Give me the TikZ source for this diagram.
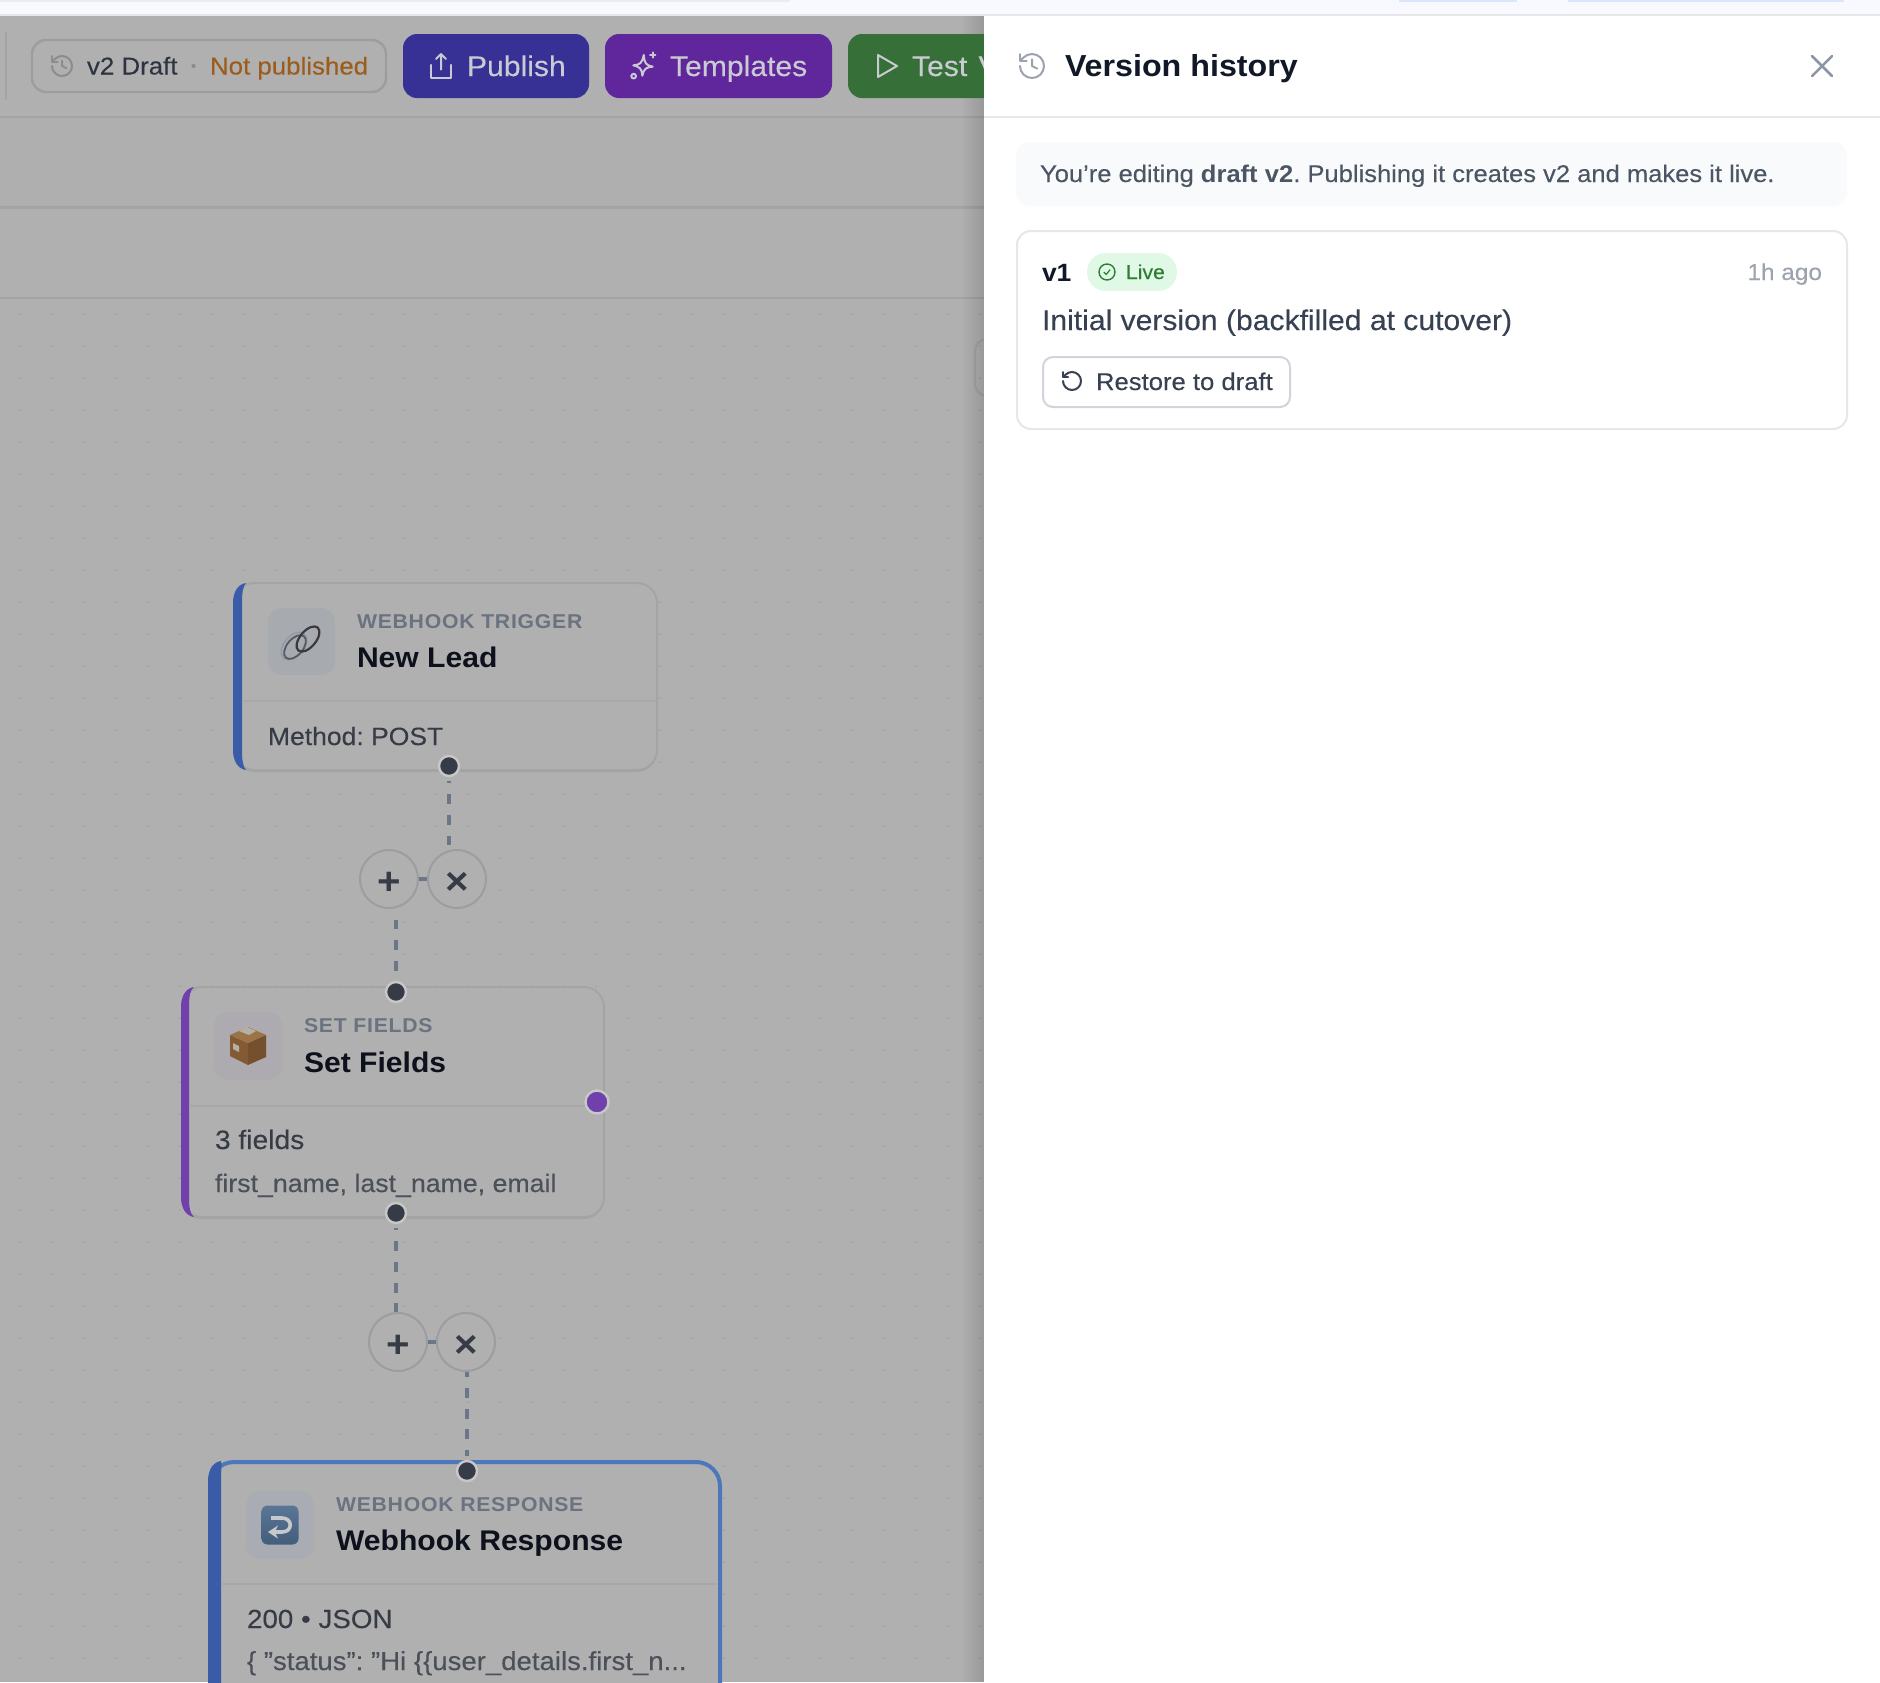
\documentclass[tikz,border=0pt]{standalone}
\usepackage{fontspec}
\setmainfont[FakeStretch=1.06, UprightFeatures={FakeBold=.18}]{Liberation Sans}
\newfontfamily\kickerfont[FakeStretch=1.06,LetterSpace=3.8]{Liberation Sans}
\usetikzlibrary{arrows.meta,shadows}
\frenchspacing
\definecolor{dimbg}{HTML}{B0B0B0}
\definecolor{dimband}{HTML}{AEAFAE}
\definecolor{dimline}{HTML}{A4A4A4}
\definecolor{griddot}{HTML}{A0A0A0}
\definecolor{btnedge}{HTML}{9D9DA1}
\definecolor{publishbg}{HTML}{373195}
\definecolor{templatebg}{HTML}{5F279B}
\definecolor{testbg}{HTML}{367038}
\definecolor{btntext}{HTML}{CACAD2}
\definecolor{ink}{HTML}{111827}
\definecolor{inkdim}{HTML}{0D111C}
\definecolor{slate}{HTML}{363B46}
\definecolor{slatelight}{HTML}{4B5059}
\definecolor{kicker}{HTML}{6B7280}
\definecolor{wirecol}{HTML}{6B7786}
\definecolor{portcol}{HTML}{363C47}
\definecolor{portpurple}{HTML}{7040AC}
\definecolor{bluebar}{HTML}{3A5CA8}
\definecolor{blueedge}{HTML}{4C78BB}
\definecolor{rulecol}{HTML}{E5E7EB}
\definecolor{softgrey}{HTML}{9CA3AF}
\definecolor{bodycol}{HTML}{4B5563}
\definecolor{textcol}{HTML}{374151}
\definecolor{livebg}{HTML}{E0F9E6}
\definecolor{livefg}{HTML}{2E7D32}
\definecolor{stripbg}{HTML}{F8F8FF}
\definecolor{stripedge}{HTML}{E8ECF4}
\definecolor{strippill}{HTML}{DBE6FB}
\definecolor{clockdim}{HTML}{8A8C90}
\definecolor{draftink}{HTML}{2D3340}
\definecolor{sepdot}{HTML}{8A8A8A}
\definecolor{notpub}{HTML}{9C5C1C}
\definecolor{leadbox}{HTML}{A7ABB0}
\definecolor{linkpale}{HTML}{8E98A6}
\definecolor{linkmid}{HTML}{555A64}
\definecolor{linkdark}{HTML}{3C383C}
\definecolor{setbox}{HTML}{ADAAB0}
\definecolor{cratel}{HTML}{835A33}
\definecolor{crater}{HTML}{74502E}
\definecolor{cratet}{HTML}{9C7346}
\definecolor{tape}{HTML}{B5AFA4}
\definecolor{replybox}{HTML}{A9ADB3}
\definecolor{replyhi}{HTML}{5A7696}
\definecolor{replylo}{HTML}{435E7C}
\definecolor{replyarrow}{HTML}{C6C8CC}
\definecolor{closecol}{HTML}{8B95A5}
\definecolor{notebg}{HTML}{F9FAFB}
\definecolor{restoreedge}{HTML}{D1D5DB}

\tikzset{
	txt/.style={anchor=base west, inner sep=0pt, outer sep=0pt},
	kickertxt/.style={txt, text=kicker, font=\kickerfont\bfseries\fontsize{10}{12}\selectfont},
	titletxt/.style={txt, text=inkdim, font=\bfseries\fontsize{14.2}{17}\selectfont},
	cardtxt/.style={txt, text=slate, font=\fontsize{12.5}{15}\selectfont},
	cardsub/.style={txt, text=slatelight, font=\fontsize{12.6}{15}\selectfont},
	toolbtn/.style={txt, text=btntext, font=\fontsize{14.2}{17}\selectfont},
	paneltxt/.style={txt, text=textcol, font=\fontsize{12.1}{15}\selectfont},
	card/.style={draw=dimline, line width=1pt, fill=dimbg, rounded corners=10pt, inner sep=0pt, anchor=north west,
		drop shadow={shadow xshift=0pt, shadow yshift=-1pt, fill=black, opacity=.07}},
	iconbox/.style={rounded corners=7pt},
	divider/.style={draw=dimline!70!dimbg, line width=1pt},
	port/.style={circle, fill=portcol, draw=dimbg!70!white, line width=1.2pt, minimum size=10pt, inner sep=0pt},
	wire/.style={draw=wirecol, line width=2pt, dash pattern=on 5pt off 5.4pt, dash phase=4pt},
	roundbtn/.style={circle, draw=btnedge, line width=1pt, fill=dimbg, minimum size=29pt, inner sep=0pt,
		text=slate, font=\bfseries\fontsize{19}{19}\selectfont},
	iconline/.style={line width=1pt, line cap=round, line join=round},
}

% glyph of a round button, sits a little under the middle
\newcommand{\btnglyph}[1]{\raisebox{-7.8pt}[0pt][0pt]{#1}}
% small line icons, local y points up
\newcommand{\historyicon}[4]{
	\begin{scope}[shift={(#1,#2)}, x=.5pt, y=.5pt, scale=#3]
		\draw[iconline, #4] (-1,0) arc[start angle=180, end angle=495, radius=1] -- (-1,.44);
		\draw[iconline, #4] (-1,1) -- (-1,.44) -- (-.44,.44);
		\draw[iconline, #4] (0,.55) -- (0,0) -- (.44,-.22);
	\end{scope}
}
\newcommand{\restoreicon}[4]{
	\begin{scope}[shift={(#1,#2)}, x=.5pt, y=.5pt, scale=#3]
		\draw[iconline, #4] (-1,0) arc[start angle=180, end angle=495, radius=1] -- (-1,.44);
		\draw[iconline, #4] (-1,1) -- (-1,.44) -- (-.44,.44);
	\end{scope}
}
% crescent accent on the left of a card: left, top, bottom, width, colour
\newcommand{\accentbar}[5]{
	\fill[#5] ({#1+13},{#2+1}) .. controls ({#1+5},{#2+2}) and (#1,{#2+10}) .. (#1,{#2+21})
		-- (#1,{#3-21}) .. controls (#1,{#3-10}) and ({#1+5},{#3-2}) .. ({#1+13},{#3-1})
		.. controls ({#1+#4+1},{#3-4}) and ({#1+#4},{#3-11}) .. ({#1+#4},{#3-21})
		-- ({#1+#4},{#2+21}) .. controls ({#1+#4},{#2+11}) and ({#1+#4+1},{#2+4}) .. ({#1+13},{#2+1}) -- cycle;
}

\begin{document}
\begin{tikzpicture}[x=.5pt, y=-.5pt]
	\path[use as bounding box, clip] (0,0) rectangle (1880,1682);
	\fill[white] (0,0) rectangle (1880,1682);

	% browser strip
	\fill[stripbg] (0,0) rectangle (1880,15);
	\fill[stripedge] (0,0) rectangle (790,2);
	\fill[strippill] (1399,0) rectangle (1517,2);
	\fill[strippill] (1568,0) rectangle (1844,2);
	\fill[rulecol] (0,14) rectangle (1880,16);

	% dimmed canvas
	\fill[dimbg] (0,16) rectangle (984,1682);
	\fill[dimband] (0,118) rectangle (984,207);
	\fill[dimline] (0,116) rectangle (984,118);
	\fill[dimline] (0,206) rectangle (984,209);
	\fill[dimline] (0,297) rectangle (984,299);
	\foreach \gx in {0,...,30}{
		\foreach \gy in {0,...,42}{
			\fill[griddot] ({20+32*\gx},{314+32*\gy}) circle[radius=1];
		}
	}
	\draw[dimline, line width=1pt, rounded corners=6pt] (1000,339) -- (975,339) -- (975,396) -- (1000,396);
	% shadow of the panel
	\foreach \s in {0,...,10}{
		\fill[black, opacity=.008] ({962+2*\s},16) rectangle (984,1682);
	}

	% toolbar
	\fill[dimline] (5,32) rectangle (7,100);
	\draw[btnedge, line width=1.2pt, rounded corners=7pt, fill=dimbg] (32,40) rectangle (386,92);
	\historyicon{62}{66}{10}{draw=clockdim}
	\node[txt, text=draftink, font=\fontsize{12.2}{15}\selectfont] (draftlbl) at (87,74.5) {v2 Draft};
	\node[txt, text=sepdot, font=\bfseries\fontsize{12}{15}\selectfont] (draftsep) at (190,74.5) {·};
	\node[txt, text=notpub, font=\fontsize{12.2}{15}\selectfont] (draftstate) at (210,74.5) {Not published};

	\fill[publishbg, rounded corners=7pt] (403,34) rectangle (589,98);
	\begin{scope}[shift={(441,66)}, x=.5pt, y=.5pt, scale=12]
		\draw[iconline, btntext] (0,-.3) -- (0,1) (-.4,.6) -- (0,1) -- (.4,.6);
		\draw[iconline, btntext] (-.85,.1) -- (-.85,-1) -- (.85,-1) -- (.85,.1);
	\end{scope}
	\node[toolbtn] (publishlbl) at (467,76) {Publish};

	\fill[templatebg, rounded corners=7pt] (605,34) rectangle (832,98);
	\begin{scope}[shift={(643,66)}, x=.5pt, y=.5pt, scale=13]
		\draw[iconline, btntext, rotate=-4] (0,.85) .. controls (.1,.2) and (.2,.1) .. (.75,0)
			.. controls (.2,-.1) and (.1,-.2) .. (0,-.75) .. controls (-.1,-.2) and (-.2,-.1) .. (-.75,0)
			.. controls (-.2,.1) and (-.1,.2) .. (0,.85) -- cycle;
		\draw[iconline, btntext] (.75,.65) -- (.75,1.05) (.55,.85) -- (.95,.85);
		\draw[iconline, btntext] (-.72,-.78) circle[radius=.18];
	\end{scope}
	\node[toolbtn] (templatelbl) at (670,76) {Templates};

	\fill[testbg, rounded corners=7pt] (848,34) rectangle (1010,98);
	\draw[iconline, btntext] (878,55) -- (897,66) -- (878,77) -- cycle;
	\node[toolbtn] (testlbl) at (912,76) {Test\kern1.5pt{} V};

	% nodes of the flow
	\node[card, minimum width=211.5pt, minimum height=93.5pt] (leadcard) at (233,582) {};
	\accentbar{233}{582}{771}{9}{bluebar}
	\fill[leadbox, iconbox] (268,608) rectangle (335,675);
	\draw[linkpale, line width=.6pt, rotate around={50:(294,646)}] (294,646) ellipse[x radius=16, y radius=10];
	\draw[linkmid, line width=.9pt, rotate around={50:(295,647)}] (295,647) ellipse[x radius=14, y radius=8];
	\draw[linkdark, line width=1.1pt, rotate around={50:(308,639)}] (308,639) ellipse[x radius=15, y radius=8];
	\node[kickertxt] (leadkind) at (357,628) {WEBHOOK TRIGGER};
	\node[titletxt] (leadname) at (357,667) {New Lead};
	\draw[divider] (242,701) -- (657,701);
	\node[cardtxt] (leadbody) at (268,745) {Method: POST};
	\node[port] (leadout) at (449,766) {};

	\node[card, minimum width=211pt, minimum height=115pt] (setcard) at (181,986) {};
	\accentbar{181}{986}{1218}{8}{portpurple}
	\fill[setbox, iconbox] (214,1012) rectangle (282,1080);
	\begin{scope}[shift={(248,1046)}, x=.5pt, y=.5pt]
		\fill[cratel] (-18,11) -- (0,3) -- (0,-19) -- (-18,-10) -- cycle;
		\fill[crater] (0,3) -- (18,11) -- (18,-11) -- (0,-19) -- cycle;
		\fill[cratet] (-18,11) -- (0,19) -- (18,11) -- (0,3) -- cycle;
		\fill[tape] (-9,15) -- (-1,19) -- (8,15) -- (1,11) -- cycle;
		\fill[tape] (-15,3) -- (-9,0) -- (-9,-6) -- (-15,-3) -- cycle;
	\end{scope}
	\node[kickertxt] (setkind) at (304,1032) {SET FIELDS};
	\node[titletxt] (setname) at (304,1072) {Set Fields};
	\draw[divider] (189,1106) -- (585,1106);
	\node[cardtxt, font=\fontsize{13.3}{15}\selectfont] (setbody) at (215,1149) {3 fields};
	\node[cardsub] (setsub) at (215,1192) {first\_name, last\_name, email};
	\node[port] (setin) at (396,992) {};
	\node[port] (setout) at (396,1213) {};
	\node[port, fill=portpurple, minimum size=11.5pt] (setside) at (597,1102) {};

	\node[card, draw=blueedge, line width=2pt, rounded corners=12pt, minimum width=255pt, minimum height=160pt] (replycard) at (208,1460) {};
	\accentbar{208}{1460}{1700}{13}{bluebar}
	\fill[replybox, iconbox] (246,1491) rectangle (314,1559);
	\begin{scope}[shift={(280,1525)}, x=.5pt, y=.5pt]
		\shade[top color=replyhi, bottom color=replylo, rounded corners=3pt] (-18.5,-19.5) rectangle (18.5,19.5);
		\draw[replyarrow, line width=1.8pt, -{Stealth[length=5pt, width=6.5pt]}] (-9,7) -- (2,7)
			.. controls (13,7) and (13,-7) .. (2,-7) -- (-12,-7);
	\end{scope}
	\node[kickertxt] (replykind) at (336,1511) {WEBHOOK RESPONSE};
	\node[titletxt] (replyname) at (336,1550) {Webhook Response};
	\draw[divider] (221,1584) -- (718,1584);
	\node[cardtxt, font=\fontsize{13.1}{15}\selectfont] (replybody) at (247,1628) {200 • JSON};
	\node[cardsub, font=\fontsize{13}{15}\selectfont] (replysub) at (247,1670) {\{ \symbol{34}status\symbol{34}: \symbol{34}Hi \{\{user\_details.first\_n...};
	\node[port] (replyin) at (467,1471) {};

	% edge buttons and dashed links
	\node[roundbtn] (addA) at (389,879) {\btnglyph{+}};
	\node[roundbtn] (cutA) at (457,879) {\btnglyph{×}};
	\node[roundbtn] (addB) at (398,1342) {\btnglyph{+}};
	\node[roundbtn] (cutB) at (466,1342) {\btnglyph{×}};
	\draw[wire, shorten <=2pt, shorten >=2pt] (leadout) -- (leadout |- cutA.north);
	\draw[wire, dash phase=.5pt, shorten <=5.5pt, shorten >=5pt] (setin |- addA.south) -- (setin);
	\draw[wire, shorten <=2pt] (setout) -- (setout |- addB.north);
	\draw[wire, dash phase=2.5pt, shorten >=2pt] (replyin |- cutB.south) -- (replyin);
	\draw[wirecol, line width=2pt] (addA) -- (cutA);
	\draw[wirecol, line width=2pt] (addB) -- (cutB);

	% version panel
	\fill[white] (984,16) rectangle (1880,1682);
	\fill[rulecol] (984,116) rectangle (1880,118);
	\historyicon{1032}{66}{12}{draw=softgrey}
	\node[txt, text=ink, font=\bfseries\fontsize{15.2}{18}\selectfont] (panelname) at (1065,76) {Version history};
	\coordinate (closeNW) at (1812,56);
	\coordinate (closeSE) at (1832,76);
	\draw[closecol, line width=1.25pt, line cap=round] (closeNW) -- (closeSE) (closeNW |- closeSE) -- (closeSE |- closeNW);

	\fill[notebg, rounded corners=7pt] (1016,142) rectangle (1847,206);
	\node[txt, text=bodycol, font=\fontsize{12.05}{15}\selectfont] (panelnote) at (1040,182) {You\symbol{39}re editing \textbf{draft v2}. Publishing it creates v2 and makes it live.};

	\draw[rulecol, line width=1pt, rounded corners=7pt, fill=white] (1017,231) rectangle (1847,429);
	\node[txt, text=ink, font=\bfseries\fontsize{12.5}{15}\selectfont] (verno) at (1042,281) {v1};
	\fill[livebg, rounded corners=9.5pt] (1087,253) rectangle (1177,291);
	\begin{scope}[shift={(1107,272)}, x=.5pt, y=.5pt, scale=8]
		\draw[livefg, line width=.7pt] (0,0) circle[radius=1];
		\draw[livefg, line width=.6pt] (-.4,0) -- (-.1,-.3) -- (.4,.3);
	\end{scope}
	\node[txt, text=livefg, font=\fontsize{10}{12}\selectfont] (livelbl) at (1126,279) {Live};
	\node[txt, anchor=base east, text=softgrey, font=\fontsize{11.5}{14}\selectfont] (verage) at (1822,280) {1h ago};
	\node[paneltxt, font=\fontsize{14.2}{16}\selectfont] (vernote) at (1042,330) {Initial version (backfilled at cutover)};
	\draw[restoreedge, line width=1pt, rounded corners=5pt] (1043,357) rectangle (1290,407);
	\restoreicon{1072}{381}{9}{draw=textcol}
	\node[paneltxt] (restorelbl) at (1096,390) {Restore to draft};
\end{tikzpicture}
\end{document}
